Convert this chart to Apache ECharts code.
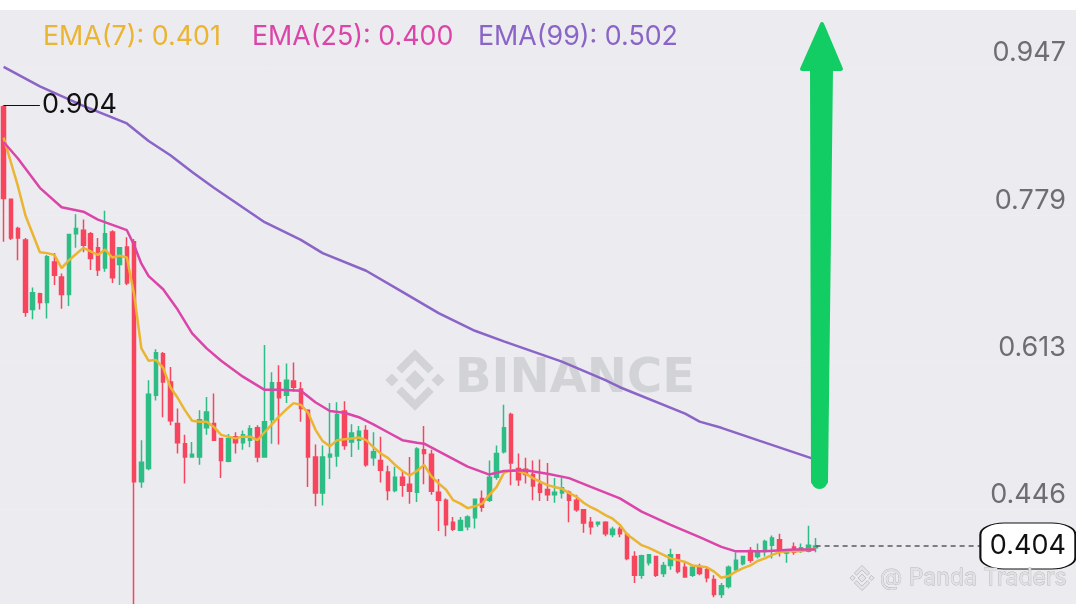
<!DOCTYPE html>
<html><head><meta charset="utf-8">
<script src="https://cdn.jsdelivr.net/npm/echarts@6/dist/echarts.min.js"></script>
<style>html,body{margin:0;padding:0;background:#fff;overflow:hidden}#c{width:1076px;height:604px}</style>
</head><body><div id="c"></div>
<script>
// ---- data ----
// candles: [open, close, low, high]
const candles = [
[0.902,0.798,0.749,0.904],[0.797,0.753,0.751,0.797],[0.764,0.753,0.728,0.766],[0.751,0.669,0.664,0.753],[0.672,0.691,0.661,0.697],
[0.690,0.680,0.672,0.691],[0.680,0.732,0.662,0.734],[0.726,0.711,0.700,0.736],[0.709,0.689,0.673,0.713],[0.689,0.757,0.676,0.758],
[0.758,0.764,0.742,0.780],[0.762,0.745,0.737,0.774],[0.758,0.730,0.717,0.760],[0.742,0.717,0.710,0.753],[0.719,0.758,0.715,0.784],
[0.760,0.708,0.702,0.762],[0.723,0.742,0.700,0.743],[0.743,0.702,0.700,0.754],[0.749,0.477,0.330,0.752],[0.477,0.499,0.470,0.524],
[0.492,0.576,0.490,0.592],[0.575,0.623,0.569,0.627],[0.622,0.590,0.550,0.624],[0.590,0.546,0.541,0.607],[0.543,0.521,0.509,0.560],
[0.520,0.505,0.475,0.530],[0.505,0.508,0.504,0.522],[0.505,0.547,0.496,0.558],[0.538,0.556,0.530,0.573],[0.543,0.524,0.523,0.577],
[0.526,0.501,0.481,0.526],[0.500,0.526,0.499,0.531],[0.528,0.521,0.509,0.533],[0.521,0.530,0.513,0.535],[0.524,0.537,0.516,0.541],
[0.538,0.505,0.499,0.541],[0.505,0.545,0.504,0.632],[0.547,0.589,0.520,0.601],[0.589,0.572,0.519,0.609],[0.575,0.592,0.566,0.611],
[0.591,0.584,0.579,0.612],[0.582,0.560,0.545,0.590],[0.558,0.505,0.471,0.559],[0.505,0.464,0.449,0.519],[0.464,0.505,0.450,0.518],
[0.505,0.508,0.480,0.566],[0.506,0.553,0.494,0.567],[0.557,0.518,0.513,0.568],[0.522,0.532,0.505,0.542],[0.524,0.534,0.513,0.540],
[0.535,0.496,0.494,0.541],[0.504,0.511,0.495,0.533],[0.501,0.490,0.476,0.528],[0.488,0.467,0.456,0.495],[0.467,0.482,0.465,0.494],
[0.482,0.473,0.460,0.488],[0.474,0.466,0.452,0.505],[0.465,0.514,0.454,0.516],[0.513,0.509,0.474,0.540],[0.508,0.466,0.462,0.513],
[0.465,0.456,0.421,0.480],[0.456,0.428,0.415,0.458],[0.431,0.423,0.421,0.437],[0.422,0.433,0.421,0.437],[0.426,0.437,0.422,0.439],
[0.436,0.457,0.424,0.458],[0.458,0.448,0.443,0.467],[0.456,0.482,0.454,0.501],[0.482,0.509,0.479,0.518],[0.511,0.538,0.509,0.564],
[0.553,0.498,0.473,0.555],[0.492,0.479,0.472,0.509],[0.491,0.485,0.475,0.504],[0.485,0.472,0.456,0.501],[0.474,0.465,0.455,0.502],
[0.468,0.462,0.455,0.498],[0.462,0.465,0.453,0.481],[0.464,0.470,0.458,0.481],[0.465,0.456,0.431,0.467],[0.456,0.445,0.443,0.462],
[0.445,0.430,0.419,0.446],[0.431,0.426,0.417,0.437],[0.429,0.431,0.426,0.431],[0.431,0.418,0.415,0.432],[0.417,0.423,0.414,0.426],
[0.423,0.418,0.414,0.426],[0.417,0.390,0.388,0.419],[0.392,0.371,0.362,0.398],[0.371,0.393,0.367,0.394],[0.385,0.394,0.382,0.395],
[0.392,0.371,0.369,0.393],[0.373,0.382,0.369,0.386],[0.382,0.394,0.377,0.401],[0.394,0.375,0.373,0.395],[0.380,0.369,0.368,0.385],
[0.371,0.380,0.369,0.382],[0.380,0.373,0.371,0.384],[0.377,0.368,0.363,0.379],[0.366,0.349,0.346,0.371],[0.349,0.359,0.345,0.362],
[0.358,0.380,0.356,0.382],[0.377,0.388,0.376,0.397],[0.384,0.392,0.382,0.393],[0.399,0.388,0.385,0.403],[0.392,0.397,0.390,0.407],
[0.399,0.409,0.392,0.411],[0.405,0.413,0.390,0.416],[0.411,0.399,0.392,0.418],[0.396,0.399,0.385,0.399],[0.403,0.397,0.394,0.408],
[0.398,0.402,0.396,0.407],[0.398,0.405,0.397,0.427],[0.402,0.404,0.397,0.413]
];
const ema7 = [0.867,0.839,0.811,0.779,0.758,0.737,0.736,0.734,0.719,0.728,
0.735,0.742,0.738,0.734,0.740,0.731,0.733,0.731,0.689,0.628,
0.614,0.615,0.606,0.584,0.572,0.558,0.546,0.545,0.545,0.539,
0.530,0.528,0.526,0.528,0.528,0.524,0.533,0.542,0.551,0.559,
0.566,0.564,0.555,0.536,0.523,0.517,0.524,0.525,0.526,0.527,
0.524,0.516,0.509,0.504,0.496,0.489,0.484,0.489,0.496,0.483,
0.475,0.468,0.456,0.452,0.447,0.449,0.452,0.462,0.471,0.487,
0.490,0.489,0.486,0.481,0.477,0.473,0.471,0.469,0.464,0.460,
0.453,0.448,0.444,0.439,0.435,0.428,0.417,0.411,0.405,0.402,
0.398,0.394,0.390,0.388,0.386,0.382,0.381,0.380,0.375,0.368,
0.370,0.375,0.379,0.382,0.387,0.390,0.394,0.397,0.398,0.398,
0.398,0.400,0.401];
// [candle index, value]
const ema25 = [[0,0.862],[2,0.843],[5,0.810],[8,0.788],[11,0.783],[13,0.774],[15,0.768],[17,0.762],[18,0.745],[19,0.724],
[20,0.710],[22,0.695],[24,0.672],[26,0.645],[28,0.628],[30,0.614],[33,0.596],[36,0.581],[38,0.581],[41,0.580],
[43,0.567],[45,0.557],[47,0.555],[49,0.550],[51,0.542],[53,0.533],[55,0.524],[57,0.521],[58,0.520],[61,0.507],
[64,0.494],[67,0.485],[69,0.489],[72,0.490],[75,0.486],[78,0.481],[81,0.471],[85,0.458],[88,0.443],[92,0.428],
[96,0.414],[99,0.403],[101,0.398],[105,0.398],[109,0.400],[112,0.400]];
const ema99 = [[0,0.947],[5,0.925],[11,0.903],[17,0.883],[20,0.863],[23,0.847],[26,0.828],[29,0.810],[36,0.771],[41,0.751],
[44,0.736],[50,0.716],[55,0.692],[60,0.668],[65,0.648],[69,0.636],[77,0.613],[83,0.592],[85,0.584],[94,0.554],
[96,0.545],[99,0.538],[104,0.524],[112,0.502]];
const yTicks = [0.947, 0.779, 0.613, 0.446];
const yMin = 0.3383, yMax = 1.0229;
const slotCount = 148;             // candle slots incl. empty space on the right
const lastPrice = 0.404;
const highMark = 0.904;
const categories = Array.from({length: slotCount}, (_, i) => String(i));

// ---- styles ----
const UP = '#2ebd85', DOWN = '#f6465d';
const C7 = '#ebb431', C25 = '#dc45a8', C99 = '#8a64c6';
const FONT = 'Inter';

function logo(cx, cy, s, fill, z, extra) {
  const P = pts => pts.map(p => [cx + p[0]*s, cy + p[1]*s]);
  const shapes = [
    [[0,-9],[9,0],[0,9],[-9,0]],
    [[-21,-6],[-15,0],[-21,6],[-27,0]],
    [[21,-6],[27,0],[21,6],[15,0]],
    [[-17,-11],[0,-28],[17,-11],[12,-6],[0,-18],[-12,-6]],
    [[-17,11],[0,28],[17,11],[12,6],[0,18],[-12,6]]
  ];
  return shapes.map(sh => ({type:'polygon', z, silent:true, shape:{points:P(sh)}, style:Object.assign({fill}, extra||{})}));
}

const chart = echarts.init(document.getElementById('c'), null, {renderer:'canvas'});
const graphics = [
  {type:'rect', z:100, silent:true, shape:{x:0,y:0,width:1076,height:10}, style:{fill:'#ffffff'}},
  ...logo(415, 380, 1.1, '#d2d3d7', 1),
  {type:'text', z:1, silent:true, style:{text:'BINANCE', x:455, y:380, fill:'#d2d3d7', fontSize:48, fontWeight:'bold', fontFamily:'DejaVu Sans', textAlign:'left', textVerticalAlign:'middle'}},
  {type:'text', z:100, silent:true, style:{text:'EMA(7): ' + ema7[ema7.length-1].toFixed(3), x:43, y:37, fill:C7, fontSize:26.8, fontFamily:FONT, textVerticalAlign:'middle'}},
  {type:'text', z:100, silent:true, style:{text:'EMA(25): ' + ema25[ema25.length-1][1].toFixed(3), x:252, y:37, fill:C25, fontSize:26.8, fontFamily:FONT, textVerticalAlign:'middle'}},
  {type:'text', z:100, silent:true, style:{text:'EMA(99): ' + ema99[ema99.length-1][1].toFixed(3), x:478, y:37, fill:C99, fontSize:26.8, fontFamily:FONT, textVerticalAlign:'middle'}},
  // green arrow annotation
  {type:'polygon', z:100, silent:true, shape:{points:[[822,24],[841,69],[831,69],[826,482],[813,482],[812,69],[802,69]]}, style:{fill:'#12cd63', stroke:'#12cd63', lineWidth:4, lineJoin:'round'}},
  {type:'circle', z:100, silent:true, shape:{cx:819.5, cy:481, r:8}, style:{fill:'#12cd63'}},
  // bottom right watermark
  ...logo(862, 578, 0.45, '#e4e4e7', 100, {stroke:'#b9b9bd', lineWidth:0.8}),
  {type:'text', z:100, silent:true, style:{text:'@ Panda Traders', x:880, y:578, fill:'#e2e2e5', stroke:'#b4b4b8', lineWidth:0.8, fontSize:23, fontFamily:FONT, textVerticalAlign:'middle'}}
];

chart.setOption({
  animation:false,
  backgroundColor:'#ebebf0',
  grid:{left:-2, right:3, top:0, bottom:0, containLabel:false},
  xAxis:{type:'category', data:categories, boundaryGap:true, show:false},
  yAxis:{type:'value', position:'right', min:yMin, max:yMax, scale:true,
    axisLine:{show:false},
    axisTick:{show:false, customValues:yTicks},
    axisLabel:{inside:true, customValues:yTicks, margin:7, verticalAlign:'bottom', lineHeight:28,
      formatter:v => v.toFixed(3), color:'#6e6e72', fontSize:27, fontFamily:FONT},
    splitLine:{show:true, lineStyle:{color:'#eeeef2', width:1}}},
  series:[
    {type:'candlestick', data:candles, barWidth:'58%', clip:true, z:2,
      itemStyle:{color:UP, color0:DOWN, borderColor:UP, borderColor0:DOWN, borderWidth:1.5},
      markLine:{silent:true, symbol:['none','none'], animation:false, data:[
        [{coord:[0, highMark], lineStyle:{color:'#111', width:1, type:'solid'},
          label:{show:true, position:'end', formatter:highMark.toFixed(3), color:'#111', fontSize:27, fontFamily:FONT, distance:2}},
         {coord:[5, highMark]}],
        [{coord:[candles.length-1, lastPrice], lineStyle:{color:'#5a5a5e', width:1.5, type:[5,4]}, label:{show:false}},
         {coord:[slotCount-1, lastPrice]}]
      ]},
      markPoint:{silent:true, animation:false, data:[
        {coord:[141, lastPrice], symbol:'roundRect', symbolSize:[95,46], symbolOffset:[2,0],
         itemStyle:{color:'#ffffff', borderColor:'#111', borderWidth:1.5},
         label:{show:true, position:'inside', formatter:lastPrice.toFixed(3), color:'#111', fontSize:27, fontFamily:FONT}}
      ]}
    },
    {type:'line', name:'EMA(7)', data:ema7.map((v,i)=>[i,v]), showSymbol:false, symbol:'none', z:3, lineStyle:{color:C7, width:2.5}},
    {type:'line', name:'EMA(25)', data:ema25, showSymbol:false, symbol:'none', z:3, lineStyle:{color:C25, width:2.5}},
    {type:'line', name:'EMA(99)', data:ema99, showSymbol:false, symbol:'none', z:3, lineStyle:{color:C99, width:2.5}}
  ],
  graphic:{elements:graphics}
});
</script></body></html>
